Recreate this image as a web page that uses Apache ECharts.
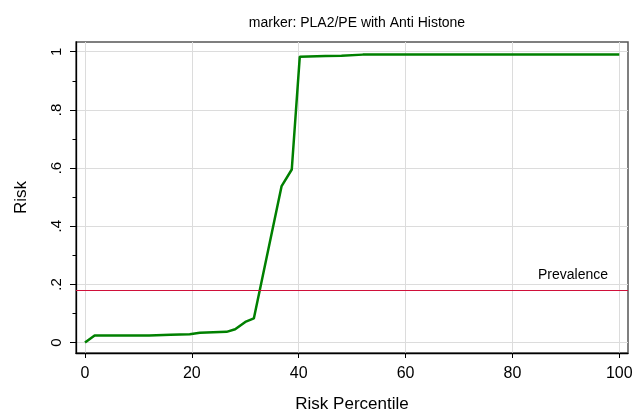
<!DOCTYPE html>
<html>
<head>
<meta charset="utf-8">
<script src="https://cdn.jsdelivr.net/npm/echarts@6/dist/echarts.min.js"></script>
<style>
  html, body { margin: 0; padding: 0; background: #fff; }
  #chart { width: 632px; height: 412px; }
</style>
</head>
<body>
<div id="chart"></div>
<script>
// risk curve (percentile -> risk)
const percentiles = [0, 1.8, 12, 16, 19.6, 21.5, 26.5, 28.1, 30, 31.6, 36.8, 38.7, 40.2, 45, 48, 52, 100];
const risks = [0, 0.024, 0.024, 0.027, 0.029, 0.034, 0.037, 0.046, 0.071, 0.083, 0.538, 0.595, 0.983, 0.985, 0.986, 0.99, 0.99];
const prevalence = 0.178;

const xTicks = [0, 20, 40, 60, 80, 100];
const yTicks = [0, 0.2, 0.4, 0.6, 0.8, 1];
const yMinorTicks = [0.1, 0.3, 0.5, 0.7, 0.9];
const yTickLabels = { 0: "0", 0.2: ".2", 0.4: ".4", 0.6: ".6", 0.8: ".8", 1: "1" };

const FONT = "'Liberation Sans', Arial, sans-serif";
const PREV_COLOR = "#d0103a";

const chart = echarts.init(document.getElementById("chart"), null, { renderer: "canvas" });

// frame of the plot region; the axes are padded a bit past 0..100 and 0..1
const gridBox = { left: 76, right: 4, top: 42, bottom: 59, outerBoundsMode: "none", containLabel: false };

const option = {
  animation: false,
  backgroundColor: "#fff",
  title: {
    text: "marker: PLA2/PE with Anti Histone",
    left: 352,
    top: 11,
    textAlign: "center",
    textStyle: { fontFamily: FONT, fontSize: 14, fontWeight: "normal", color: "#000" },
  },
  grid: [
    Object.assign({ show: true, borderColor: "#555", borderWidth: 1.5 }, gridBox),
    Object.assign({}, gridBox),
  ],
  xAxis: [
    {
      type: "value",
      gridIndex: 0,
      min: -1.684,
      max: 101.63,
      axisLine: { show: true, onZero: false, lineStyle: { color: "#000", width: 1.3 } },
      axisTick: { show: true, customValues: xTicks, length: 5, lineStyle: { color: "#000" } },
      axisLabel: {
        customValues: xTicks,
        margin: 13,
        fontFamily: FONT,
        fontSize: 16,
        color: "#000",
      },
      splitLine: { show: true, lineStyle: { color: "#dcdcdc", width: 1 } },
      name: "Risk Percentile",
      nameLocation: "middle",
      nameGap: 43,
      nameTextStyle: { fontFamily: FONT, fontSize: 17, color: "#000" },
    },
    {
      type: "value",
      gridIndex: 1,
      min: -1.684,
      max: 101.63,
      show: false,
    },
  ],
  yAxis: [
    {
      type: "value",
      gridIndex: 0,
      min: -0.0358,
      max: 1.0334,
      axisLine: { show: true, onZero: false, lineStyle: { color: "#000", width: 1.3 } },
      axisTick: { show: true, customValues: yTicks, length: 6, lineStyle: { color: "#000" } },
      axisLabel: {
        customValues: yTicks,
        rotate: 90,
        margin: 12,
        fontFamily: FONT,
        fontSize: 15,
        color: "#000",
        formatter: (v) => yTickLabels[Math.round(v * 10) / 10] ?? "",
      },
      splitLine: { show: true, lineStyle: { color: "#dcdcdc", width: 1 } },
      name: "Risk",
      nameLocation: "middle",
      nameGap: 46,
      nameRotate: 90,
      nameTextStyle: { fontFamily: FONT, fontSize: 17, color: "#000" },
    },
    {
      type: "value",
      gridIndex: 1,
      min: -0.0358,
      max: 1.0334,
      axisLine: { show: false, onZero: false },
      axisTick: { show: true, customValues: yMinorTicks, length: 3.5, lineStyle: { color: "#000" } },
      axisLabel: { show: false },
      splitLine: { show: false },
    },
  ],
  series: [
    {
      name: "Risk",
      type: "line",
      xAxisIndex: 0,
      yAxisIndex: 0,
      data: percentiles.map((p, i) => [p, risks[i]]),
      showSymbol: false,
      symbol: "none",
      color: "#008000",
      lineStyle: { color: "#008000", width: 2.5 },
      z: 3,
    },
    {
      name: "Prevalence",
      type: "line",
      xAxisIndex: 0,
      yAxisIndex: 0,
      data: [],
      color: PREV_COLOR,
      z: 2,
      markLine: {
        silent: true,
        symbol: ["none", "none"],
        lineStyle: { color: PREV_COLOR, width: 1.2, type: "solid", opacity: 1 },
        label: {
          show: true,
          position: "insideEndTop",
          distance: [20, 8],
          formatter: "Prevalence",
          fontFamily: FONT,
          fontSize: 14,
          color: "#000",
        },
        data: [{ yAxis: prevalence }],
      },
    },
  ],
};

chart.setOption(option);
</script>
</body>
</html>
